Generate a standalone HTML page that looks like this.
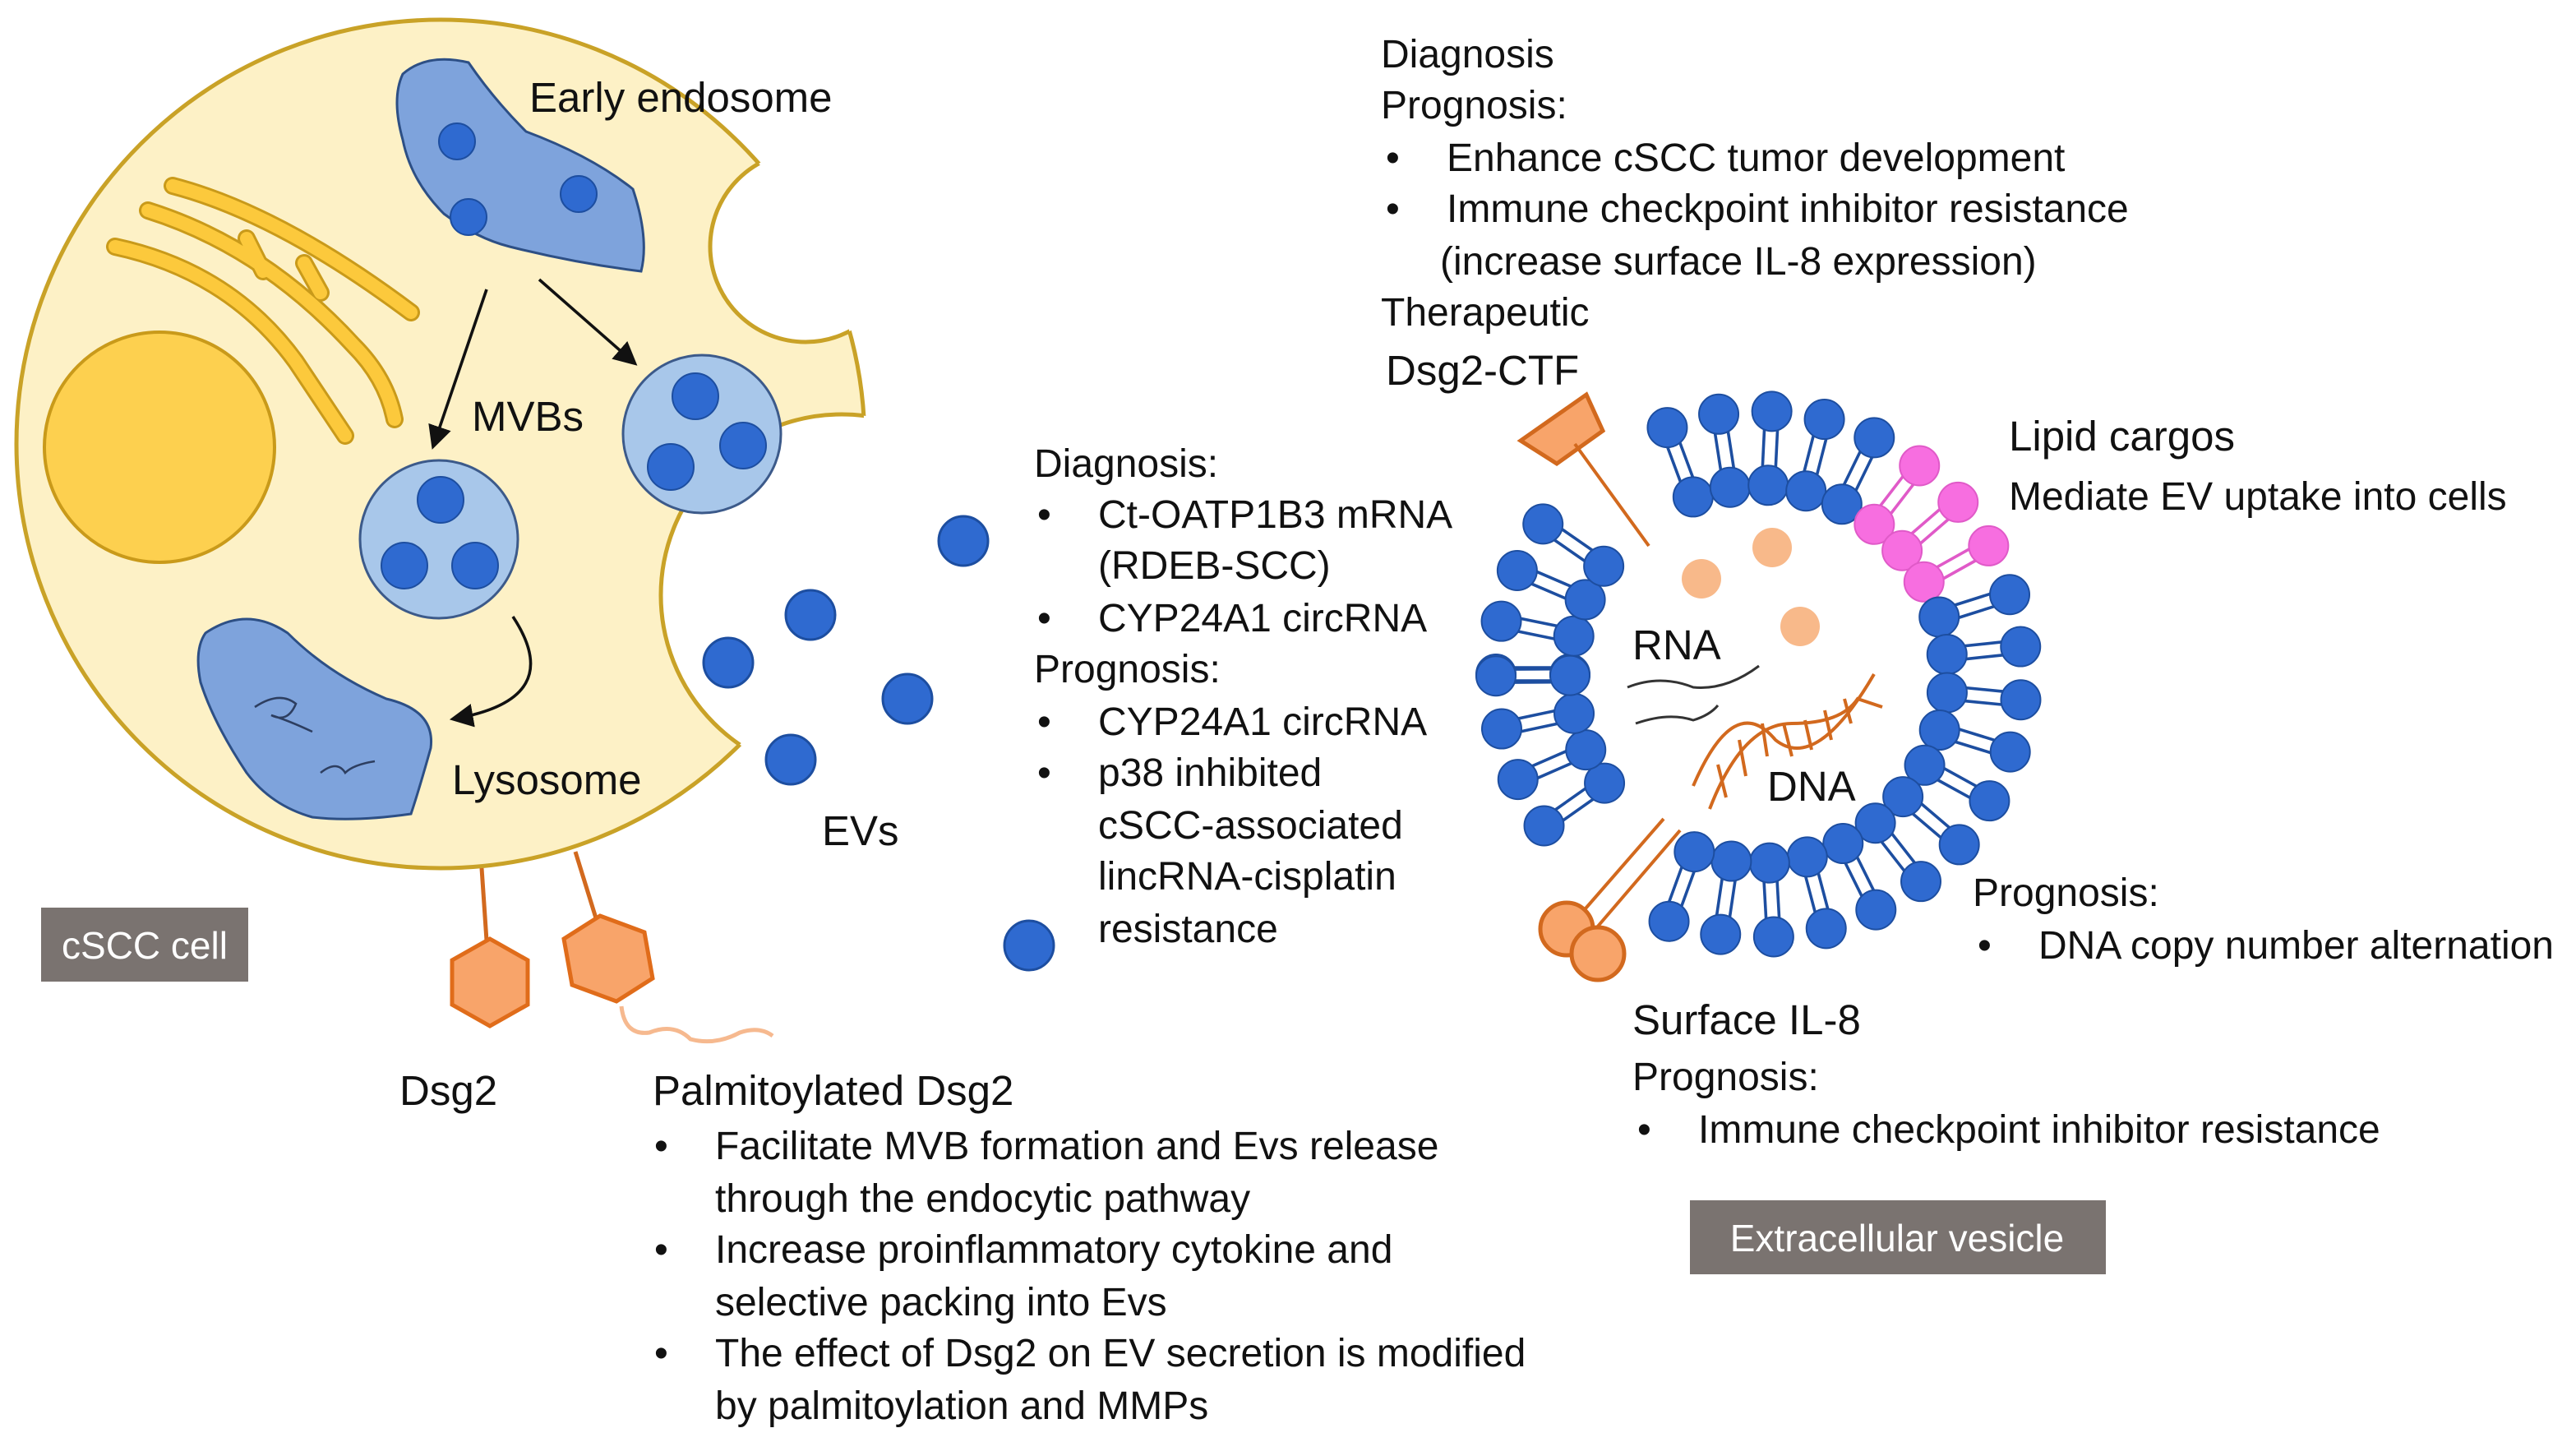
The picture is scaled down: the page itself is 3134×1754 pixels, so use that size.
<!DOCTYPE html>
<html><head><meta charset="utf-8"><style>
html,body{margin:0;padding:0;background:#fff}
svg{display:block}
text{font-family:"Liberation Sans",sans-serif;fill:#111}
</style></head><body>
<svg id="s" width="3134" height="1754" viewBox="0 0 1567 877" xmlns="http://www.w3.org/2000/svg">
<defs>
<mask id="cm"><rect width="1567" height="877" fill="#fff"/><circle cx="490" cy="150" r="58" fill="#000"/><circle cx="512" cy="362" r="110" fill="#000"/></mask>
<marker id="ah" markerWidth="8" markerHeight="8" refX="6" refY="4" orient="auto"><path d="M0,0 L8,4 L0,8 Z" fill="#111"/></marker>
</defs>
<g mask="url(#cm)"><circle cx="268" cy="270" r="258" fill="#fdf1c6" stroke="#c9a227" stroke-width="2.5"/></g>
<g mask="url(#cm)" opacity="0"></g>
<circle cx="490" cy="150" r="58" fill="none" stroke="#c9a227" stroke-width="2.5" stroke-dasharray="0" clip-path="url(#cc)"/>
<clipPath id="cc"><circle cx="268" cy="270" r="258"/></clipPath>
<circle cx="512" cy="362" r="110" fill="none" stroke="#c9a227" stroke-width="2.5" clip-path="url(#cc)"/>
<circle cx="97" cy="272" r="70" fill="#fdd04f" stroke="#c99a1a" stroke-width="2"/>
<g fill="none" stroke-linecap="round">
<g stroke="#c99a1a" stroke-width="11">
<path d="M105,113 Q170,130 250,190"/><path d="M90,128 Q160,150 215,210 Q235,230 240,255"/><path d="M70,150 Q140,165 180,220 Q200,250 210,265"/><path d="M150,145 L160,165"/><path d="M185,160 L195,178"/>
</g>
<g stroke="#fcc93c" stroke-width="8">
<path d="M105,113 Q170,130 250,190"/><path d="M90,128 Q160,150 215,210 Q235,230 240,255"/><path d="M70,150 Q140,165 180,220 Q200,250 210,265"/><path d="M150,145 L160,165"/><path d="M185,160 L195,178"/>
</g></g>
<path d="M245,45 Q260,32 285,38 Q300,60 320,80 Q360,95 385,115 Q395,145 390,165 Q350,160 310,150 Q290,145 270,130 Q250,110 245,85 Q238,60 245,45Z" fill="#7ea3dc" stroke="#2d4f85" stroke-width="1.5"/>
<g fill="#2f6ad0" stroke="#1d4ea0"><circle cx="278" cy="86" r="11"/><circle cx="285" cy="132" r="11"/><circle cx="352" cy="118" r="11"/></g>
<circle cx="267" cy="328" r="48" fill="#a8c7ea" stroke="#3c5a8a" stroke-width="1.5"/>
<circle cx="427" cy="264" r="48" fill="#a8c7ea" stroke="#3c5a8a" stroke-width="1.5"/>
<g fill="#2f6ad0" stroke="#1d4ea0"><circle cx="268" cy="304" r="14"/><circle cx="246" cy="344" r="14"/><circle cx="289" cy="344" r="14"/><circle cx="423" cy="241" r="14"/><circle cx="408" cy="284" r="14"/><circle cx="452" cy="271" r="14"/></g>
<path d="M125,385 Q150,368 175,385 Q200,410 235,425 Q265,432 262,455 Q255,480 250,495 Q215,500 190,497 Q165,490 150,470 Q130,440 122,415 Q118,395 125,385Z" fill="#7ea3dc" stroke="#2d4f85" stroke-width="1.5"/>
<path d="M155,430 Q170,420 180,428 Q175,440 165,435 Q175,438 190,445" fill="none" stroke="#2d3e60" stroke-width="1.3"/>
<path d="M195,470 Q205,462 210,470 Q215,465 228,463" fill="none" stroke="#2d3e60" stroke-width="1.3"/>
<g stroke="#111" stroke-width="1.8" fill="none" marker-end="url(#ah)">
<line x1="296" y1="176" x2="264" y2="270"/><line x1="328" y1="170" x2="385" y2="220"/><path d="M312,375 Q345,425 277,437"/>
</g>
<g stroke="#d2691e" stroke-width="2.5"><line x1="293" y1="528" x2="296" y2="572"/><line x1="350" y1="518" x2="363" y2="560"/></g>
<polygon points="298,571 321,584 321,611 298,624 275,611 275,584" fill="#f8a46a" stroke="#e06c1a" stroke-width="2.5"/>
<polygon points="365,557 392,567 397,595 375,609 348,599 343,571" fill="#f8a46a" stroke="#e06c1a" stroke-width="2.5"/>
<path d="M378,612 Q380,630 395,628 Q410,622 420,632 Q435,636 450,628 Q462,624 470,630" fill="none" stroke="#f6b98f" stroke-width="2.5"/>
<g fill="#2f6ad0" stroke="#1d4ea0" stroke-width="1.5"><circle cx="586" cy="329" r="15"/><circle cx="493" cy="374" r="15"/><circle cx="443" cy="403" r="15"/><circle cx="552" cy="425" r="15"/><circle cx="481" cy="462" r="15"/><circle cx="626" cy="575" r="15"/></g>
<rect x="25" y="552" width="126" height="45" fill="#7a7370"/><text x="88" y="583" text-anchor="middle" font-size="23" style="fill:#fff">cSCC cell</text>
<rect x="1028" y="730" width="253" height="45" fill="#7a7370"/><text x="1154" y="761" text-anchor="middle" font-size="23" style="fill:#fff">Extracellular vesicle</text>
<g id="ves"></g>
<g fill="#f8b98a"><circle cx="1035" cy="352" r="12"/><circle cx="1078" cy="333" r="12"/><circle cx="1095" cy="381" r="12"/></g>
<g fill="none" stroke="#333" stroke-width="1.5"><path d="M990,418 Q1010,410 1030,418 Q1050,420 1070,405"/><path d="M995,440 Q1015,433 1030,438 Q1040,435 1045,429"/></g>
<g fill="none" stroke="#d2691e" stroke-width="2">
<path d="M1030,478 Q1055,420 1080,450 Q1105,470 1140,410"/><path d="M1040,492 Q1060,440 1090,440 Q1120,440 1130,425 L1145,430"/>
<path d="M1045,465 L1050,485 M1058,450 L1062,472 M1072,440 L1075,460 M1085,440 L1090,460 M1098,438 L1102,456 M1110,432 L1114,450 M1122,425 L1126,440"/>
</g>
<polygon points="925,268 965,240 975,262 947,282" fill="#f8a46a" stroke="#d2691e" stroke-width="2.5"/>
<line x1="958" y1="270" x2="1003" y2="332" stroke="#d2691e" stroke-width="2"/>
<g stroke="#d2691e" stroke-width="2"><line x1="1012" y1="498" x2="958" y2="560"/><line x1="1022" y1="505" x2="968" y2="568"/></g>
<g fill="#f8a46a" stroke="#d2691e" stroke-width="2.5"><circle cx="953" cy="565" r="16"/><circle cx="972" cy="580" r="16"/></g>
<g font-size="25.5"><text x="322" y="68">Early endosome</text><text x="287" y="262">MVBs</text><text x="275" y="483">Lysosome</text><text x="500" y="514">EVs</text><text x="243" y="672">Dsg2</text><text x="397" y="672">Palmitoylated Dsg2</text>
<text x="843" y="234">Dsg2-CTF</text><text x="1222" y="274">Lipid cargos</text><text x="993" y="401">RNA</text><text x="1075" y="487">DNA</text><text x="993" y="629">Surface IL-8</text></g>
<g font-size="24">
<text x="398" y="705">•</text><text x="435" y="705">Facilitate MVB formation and Evs release</text><text x="435" y="737">through the endocytic pathway</text>
<text x="398" y="768">•</text><text x="435" y="768">Increase proinflammatory cytokine and</text><text x="435" y="800">selective packing into Evs</text>
<text x="398" y="831">•</text><text x="435" y="831">The effect of Dsg2 on EV secretion is modified</text><text x="435" y="863">by palmitoylation and MMPs</text>
<text x="629" y="290">Diagnosis:</text>
<text x="631" y="321">•</text><text x="668" y="321">Ct-OATP1B3 mRNA</text><text x="668" y="352">(RDEB-SCC)</text>
<text x="631" y="384">•</text><text x="668" y="384">CYP24A1 circRNA</text>
<text x="629" y="415">Prognosis:</text>
<text x="631" y="447">•</text><text x="668" y="447">CYP24A1 circRNA</text>
<text x="631" y="478">•</text><text x="668" y="478">p38 inhibited</text><text x="668" y="510">cSCC-associated</text><text x="668" y="541">lincRNA-cisplatin</text><text x="668" y="573">resistance</text>
<text x="840" y="41">Diagnosis</text><text x="840" y="72">Prognosis:</text>
<text x="843" y="104">•</text><text x="880" y="104">Enhance cSCC tumor development</text>
<text x="843" y="135">•</text><text x="880" y="135">Immune checkpoint inhibitor resistance</text>
<text x="876" y="167">(increase surface IL-8 expression)</text>
<text x="840" y="198">Therapeutic</text>
<text x="1222" y="310">Mediate EV uptake into cells</text>
<text x="1200" y="551">Prognosis:</text><text x="1203" y="583">•</text><text x="1240" y="583">DNA copy number alternation</text>
<text x="993" y="663">Prognosis:</text><text x="996" y="695">•</text><text x="1033" y="695">Immune checkpoint inhibitor resistance</text>
</g>
</svg>
<script>
(function(){var g=document.getElementById('ves'),cx=1070,cy=410,h='';
for(var a=-180;a<180;a+=11.6){
 if(Math.abs(a+130)<9||Math.abs(a-127)<9)continue;
 var pink=(a>-58&&a<-20),r=a*Math.PI/180,c=Math.cos(r),s=Math.sin(r),px=-s*4,py=c*4;
 var f=pink?'#f76ee0':'#2f6ad0',st=pink?'#e05ac8':'#1d4ea0';
 for(var k=-1;k<=1;k+=2){h+='<line x1="'+(cx+c*124+px*k)+'" y1="'+(cy+s*124+py*k)+'" x2="'+(cx+c*150+px*k)+'" y2="'+(cy+s*150+py*k)+'" stroke="'+st+'" stroke-width="1.8"/>';}
 h+='<circle cx="'+(cx+c*160)+'" cy="'+(cy+s*160)+'" r="12" fill="'+f+'" stroke="'+st+'"/>';
 h+='<circle cx="'+(cx+c*115)+'" cy="'+(cy+s*115)+'" r="12" fill="'+f+'" stroke="'+st+'"/>';
}
g.innerHTML=h;})();
</script>
</body></html>
